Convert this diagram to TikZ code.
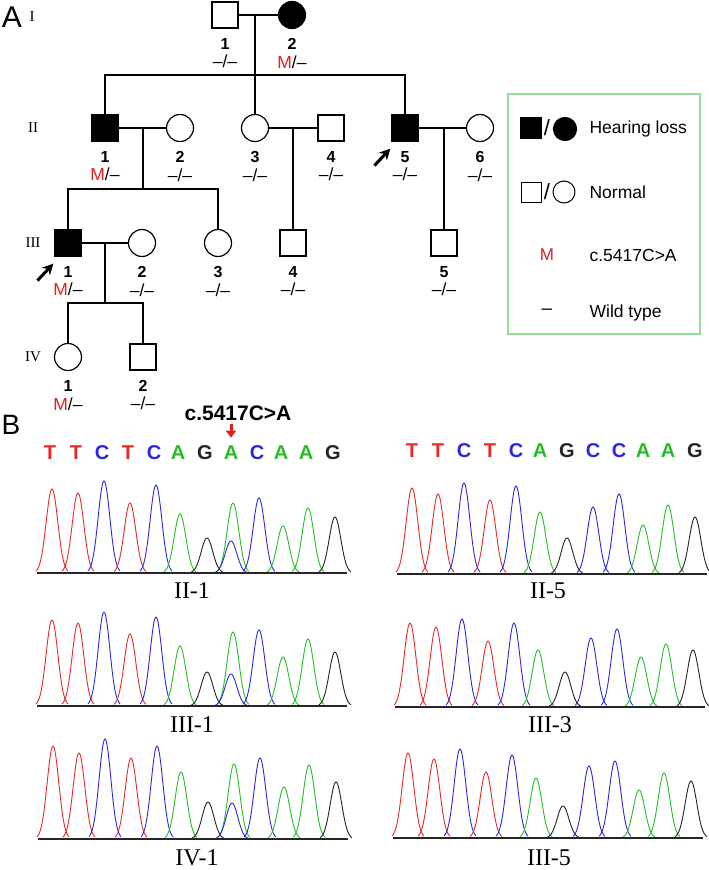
\documentclass[tikz,border=0pt]{standalone}
\usepackage{fontspec}
\setmainfont{Liberation Sans}
\newfontfamily\romanf{Liberation Serif}
\usetikzlibrary{positioning, arrows.meta}

\definecolor{mred}{RGB}{228,30,30}
\definecolor{tR}{RGB}{232,40,40}
\definecolor{tB}{RGB}{40,40,225}
\definecolor{tG}{RGB}{35,190,35}
\definecolor{tK}{RGB}{35,35,35}
\definecolor{lgreen}{RGB}{150,220,150}

\newcommand{\wt}{\textendash/\textendash}
\newcommand{\mt}{\textcolor{mred}{M}/\textendash}

% number and genotype under a pedigree symbol
\newcommand{\pedlabel}[3]{%
  \node[idx] (#1n) at ([yshift=-15pt]#1.south) {#2};
  \node[geno] (#1g) at ([yshift=-33pt]#1.south) {#3};
}

% one trace peak: position, baseline, height, colour
\newcommand{\peakat}[4]{%
  \pgfmathsetmacro\pc{#1}%
  \draw[#4, line width=0.9pt] plot[domain=\pc-16:\pc+16, samples=33, smooth]
    (\x, {#2-#3*exp(-((\x-\pc)^2)/68)});
}

% one chromatogram: x0, baseline, heights, colour of peak 8, blue shoulder
\newcommand{\chromat}[5]{%
  \foreach \p/\col [count=\i from 0] in {15/tR,41/tR,67/tB,93/tR,119/tB,143/tG,
      170/tK,196/#4,222/tB,246/tG,271/tG,298/tK} {
    \pgfmathsetmacro\hh{{#3}[\i]}
    \peakat{#1+\p}{#2}{\hh}{\col}
  }
  \ifdim #5pt>0pt \peakat{#1+194}{#2}{#5}{tB}\fi
  \draw[line width=1.1pt, black!85] (#1,#2) -- ++(310,0);
}

\begin{document}
\begin{tikzpicture}[x=1pt, y=-1pt, line width=1.2pt,
    male/.style={draw, rectangle, minimum size=26pt, inner sep=0pt},
    female/.style={draw, circle, minimum size=27pt, inner sep=0pt},
    aff/.style={fill=black},
    idx/.style={font=\bfseries\fontsize{16}{16}\selectfont, inner sep=0pt},
    geno/.style={font=\fontsize{17.5}{17.5}\selectfont, inner sep=0pt},
    genlab/.style={font=\romanf\fontsize{15}{15}\selectfont, inner sep=0pt},
    pro/.style={-{Stealth[length=11pt, width=11pt]}, line width=3pt},
    seqlet/.style={font=\bfseries\fontsize{20}{20}\selectfont, inner sep=0pt, anchor=base},
    legtxt/.style={font=\fontsize{17.5}{17.5}\selectfont, anchor=west, inner sep=0pt},
    trace/.style={font=\romanf\fontsize{24}{24}\selectfont, inner sep=0pt}]

\useasboundingbox (0,0) rectangle (709,870);

%% A: pedigree
\node[font=\fontsize{30}{30}\selectfont, inner sep=0pt] (A) at (12,17) {A};
\node[genlab] (gI) at (32,17) {I};
\node[genlab] (gII) at (33,128) {II};
\node[genlab] (gIII) at (33,243) {III};
\node[genlab] (gIV) at (33,357) {IV};

\node[male] (i1) at (225,15) {};
\node[female, aff] (i2) at (292,15) {};
\draw (i1) -- (i2);
\coordinate (mI) at (255,15);
\coordinate (sI) at (255,75);

\node[male, aff] (ii1) at (105,128) {};
\node[female] (ii2) at (180,128) {};
\node[female] (ii3) at (255,128) {};
\node[male] (ii4) at (331,128) {};
\node[male, aff] (ii5) at (405,128) {};
\node[female] (ii6) at (480,128) {};
\draw (mI) -- (ii3);
\draw (ii1) |- (sI) -| (ii5);
\draw (ii1) -- (ii2);
\draw (ii3) -- (ii4);
\draw (ii5) -- (ii6);
\coordinate (mII) at (143,128);
\coordinate (sII) at (143,189);
\coordinate (mIIb) at (293,128);
\coordinate (mIIc) at (444,128);

\node[male, aff] (iii1) at (68,243) {};
\node[female] (iii2) at (142,243) {};
\node[female] (iii3) at (218,243) {};
\node[male] (iii4) at (293,243) {};
\node[male] (iii5) at (444,243) {};
\draw (mII) -- (sII);
\draw (iii1) |- (sII) -| (iii3);
\draw (mIIb) -- (iii4);
\draw (mIIc) -- (iii5);
\draw (iii1) -- (iii2);
\coordinate (mIII) at (105,243);
\coordinate (sIII) at (105,303);

\node[female] (iv1) at (68,357) {};
\node[male] (iv2) at (143,357) {};
\draw (mIII) -- (sIII);
\draw (iv1) |- (sIII) -| (iv2);

\pedlabel{i1}{1}{\wt}
\pedlabel{i2}{2}{\mt}
\pedlabel{ii1}{1}{\mt}
\pedlabel{ii2}{2}{\wt}
\pedlabel{ii3}{3}{\wt}
\pedlabel{ii4}{4}{\wt}
\pedlabel{ii5}{5}{\wt}
\pedlabel{ii6}{6}{\wt}
\pedlabel{iii1}{1}{\mt}
\pedlabel{iii2}{2}{\wt}
\pedlabel{iii3}{3}{\wt}
\pedlabel{iii4}{4}{\wt}
\pedlabel{iii5}{5}{\wt}
\pedlabel{iv1}{1}{\mt}
\pedlabel{iv2}{2}{\wt}

% probands
\draw[pro] ([shift={(-17,24)}]iii1.south west) -- ([shift={(-1,7)}]iii1.south west);
\draw[pro] ([shift={(-17,24)}]ii5.south west) -- ([shift={(-1,7)}]ii5.south west);

% legend
\node[draw=lgreen, line width=2.2pt, minimum width=192pt, minimum height=240pt] (legend) at (604,214) {};
\node[male, aff, minimum size=21pt] (lsq1) at (531,128) {};
\node[font=\fontsize{22}{22}\selectfont, inner sep=0pt] (lsl1) at (547,128) {/};
\node[female, aff, minimum size=23pt] (lci1) at (565,129) {};
\node[legtxt] (lt1) at (589,129) {Hearing loss};
\node[male, minimum size=20pt, line width=1pt] (lsq2) at (531,192) {};
\node[font=\fontsize{22}{22}\selectfont, inner sep=0pt] (lsl2) at (547,192) {/};
\node[female, minimum size=22pt, line width=1pt] (lci2) at (564,192) {};
\node[legtxt] (lt2) at (589,192) {Normal};
\node[geno, font=\fontsize{17}{17}\selectfont, text=mred] (lm) at (547,255) {M};
\node[legtxt] (lt3) at (589,255) {c.5417C>A};
\node[geno, font=\fontsize{19}{19}\selectfont] (ld) at (547,312) {\textendash};
\node[legtxt] (lt4) at (589,313) {Wild type};

%% B: sequencing
\node[font=\fontsize{28}{28}\selectfont, inner sep=0pt] (B) at (11,425) {B};
\node[font=\bfseries\fontsize{21}{21}\selectfont, inner sep=0pt] (mut) at (238,413) {c.5417C>A};

\foreach \p/\ltr/\col [count=\i] in {15/T/tR,41/T/tR,67/C/tB,93/T/tR,119/C/tB,143/A/tG,
    170/G/tK,196/A/tG,222/C/tB,246/A/tG,271/A/tG,298/G/tK}
  \node[seqlet, text=\col] (l\i) at (35+\p,459) {\ltr};
\foreach \p/\ltr/\col [count=\i] in {15/T/tR,41/T/tR,67/C/tB,93/T/tR,119/C/tB,143/A/tG,
    170/G/tK,196/C/tB,222/C/tB,246/A/tG,271/A/tG,298/G/tK}
  \node[seqlet, text=\col] (r\i) at (397+\p,457) {\ltr};

\draw[mred, -{Triangle[length=7pt, width=10pt]}, line width=3pt]
  ([yshift=-3pt]l8.north |- mut.south) -- ([yshift=7pt]l8.north);

\chromat{37}{573}{84,80,92,70,88,59,35,70,75,47,65,56}{tG}{32}
\chromat{397}{574}{86,80,91,74,88,62,36,67,80,49,69,57}{tB}{0}
\chromat{37}{706}{86,83,94,72,89,60,34,74,76,49,67,54}{tG}{32}
\chromat{395}{707}{84,80,88,66,84,57,35,69,78,50,63,57}{tB}{0}
\chromat{38}{839}{93,86,100,81,93,67,37,75,81,52,74,57}{tG}{36}
\chromat{393}{838}{85,79,89,66,83,60,32,72,77,48,65,57}{tB}{0}

\node[trace] (tII1) at (192,591) {II-1};
\node[trace] (tII5) at (548,591) {II-5};
\node[trace] (tIII1) at (192,725) {III-1};
\node[trace] (tIII3) at (550,725) {III-3};
\node[trace] (tIV1) at (197,858) {IV-1};
\node[trace] (tIII5) at (549,858) {III-5};
\end{tikzpicture}
\end{document}
